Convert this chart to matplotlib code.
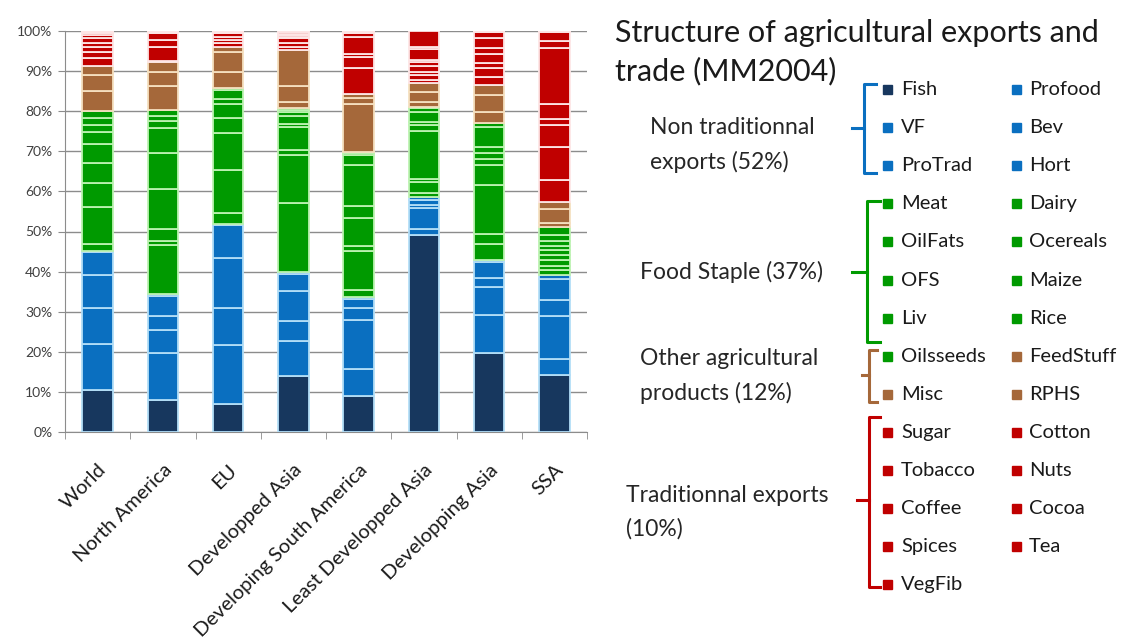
import numpy as np
import matplotlib
matplotlib.use("Agg")
import matplotlib.pyplot as plt
from matplotlib.lines import Line2D
from matplotlib.patches import Rectangle

plt.rcParams["font.family"] = ["Lato", "DejaVu Sans"]

regions = ["World", "North America", "EU", "Developped Asia",
           "Developing South America", "Least Developped Asia",
           "Developping Asia", "SSA"]

categories = ["Fish", "Profood", "VF", "Bev", "ProTrad", "Hort",
              "Meat", "Dairy", "OilFats", "Ocereals", "OFS", "Maize", "Liv", "Rice",
              "Oilsseeds", "FeedStuff", "Misc", "RPHS",
              "Sugar", "Cotton", "Tobacco", "Nuts", "Coffee", "Cocoa", "Spices", "Tea",
              "VegFib"]

# colour group of each category (0 fish, 1 blue, 2 green, 3 brown, 4 red)
groups = [0, 1, 1, 1, 1, 1,
          2, 2, 2, 2, 2, 2, 2, 2,
          2, 3, 3, 3,
          4, 4, 4, 4, 4, 4, 4, 4,
          4]

# shares in % per region, same order as categories
world = [10.4, 11.6, 9.0, 8.1, 5.8, 0.3,
         1.6, 9.4, 5.8, 5.1, 4.6, 3.2, 1.6, 1.9,
         1.6, 5.0, 4.0, 2.3,
         1.9, 1.5, 1.3, 1.1, 1.1, 0.8, 0.5, 0.3, 0.2]
north_america = [7.9, 11.7, 5.8, 3.6, 4.9, 0.6,
                 12.1, 1.0, 3.0, 10.1, 8.8, 6.2, 1.8, 1.4,
                 1.4, 6.0, 3.6, 2.3,
                 0.4, 3.5, 1.7, 1.6, 0.2, 0.1, 0.1, 0.1, 0.1]
eu = [7.1, 14.5, 9.4, 12.3, 8.4, 0.2,
      2.6, 10.8, 9.2, 3.7, 3.6, 1.2, 2.3, 0.4,
      0.2, 4.0, 4.8, 1.4,
      0.8, 0.9, 0.8, 0.8, 0.2, 0.1, 0.1, 0.1, 0.1]
developped_asia = [14.0, 8.6, 5.0, 7.5, 4.4, 0.4,
                   17.1, 12.1, 1.2, 5.8, 0.6, 2.2, 0.8, 0.6,
                   0.4, 1.7, 3.9, 9.0,
                   0.8, 0.8, 1.3, 0.4, 0.3, 0.2, 0.2, 0.5, 0.2]
developing_sam = [9.0, 6.8, 12.1, 2.9, 2.3, 0.6,
                  1.7, 9.8, 1.1, 7.1, 2.9, 10.3, 2.5, 0.5,
                  0.3, 12.0, 1.3, 1.0,
                  6.5, 2.9, 0.6, 4.4, 0.8, 0.2, 0.2, 0.1, 0.1]
least_dev_asia = [49.1, 1.5, 5.3, 0.8, 1.1, 0.9,
                  0.8, 2.9, 0.7, 11.9, 1.5, 0.9, 2.5, 0.8,
                  0.4, 1.3, 2.5, 2.1,
                  0.8, 1.2, 0.9, 1.4, 1.0, 0.5, 2.7, 0.6, 3.9]
developping_asia = [19.8, 9.3, 7.1, 2.3, 3.8, 0.5,
                    4.2, 2.5, 12.2, 4.9, 1.4, 1.5, 1.6, 5.0,
                    0.9, 2.7, 4.3, 2.5,
                    2.1, 2.2, 1.1, 2.3, 1.5, 2.6, 1.5, 0.1, 0.1]
ssa = [14.1, 4.2, 10.6, 4.0, 5.2, 1.0,
       1.2, 1.1, 1.4, 1.3, 1.2, 1.1, 1.2, 1.5,
       2.1, 0.8, 3.7, 1.7,
       5.5, 8.2, 5.4, 1.5, 3.7, 14.0, 1.8, 2.3, 0.2]

shares = np.array([world, north_america, eu, developped_asia, developing_sam,
                   least_dev_asia, developping_asia, ssa])

group_colors = ["#17375E", "#0A6FC0", "#009A00", "#A5683A", "#C00000"]
group_edges = ["#B3DEF7", "#B3DEF7", "#BDF2B2", "#F5E0C0", "#FDE6E6"]

title_lines = ["Structure of agricultural exports and", "trade (MM2004)"]
group_labels = ["Non traditionnal\nexports (52%)", "Food Staple (37%)",
                "Other agricultural\nproducts (12%)", "Traditionnal exports\n(10%)"]

W, H = 1125, 642
fig = plt.figure(figsize=(W / 100, H / 100), dpi=100)


def fx(px):
    return px / W


def fy(py):
    return 1 - py / H


ax = fig.add_axes([fx(65), fy(432), fx(587) - fx(65), fy(31) - fy(432)])

x = np.arange(len(regions))
bottom = np.zeros(len(regions))
for j, cat in enumerate(categories):
    g = groups[j]
    ax.bar(x, shares[:, j], width=0.47, bottom=bottom,
           color=group_colors[g], edgecolor=group_edges[g], linewidth=1.3, zorder=3)
    bottom += shares[:, j]

ax.set_xlim(-0.5, len(regions) - 0.5)
ax.set_ylim(0, 100)
ax.set_yticks(np.arange(0, 101, 10))
ax.set_yticklabels([f"{v}%" for v in range(0, 101, 10)], fontsize=10, color="#404040")
ax.yaxis.grid(True, color="#8C8C8C", linewidth=1.0, zorder=0)
ax.tick_params(axis="y", length=5, color="#8C8C8C", pad=4)

ax.set_xticks(x)
ax.set_xticklabels(regions, rotation=45, ha="right", rotation_mode="anchor",
                   fontsize=14.5, color="#1A1A1A")
ax.set_xticks(np.arange(-0.5, len(regions)), minor=True)
ax.tick_params(axis="x", which="major", length=0, pad=21)
ax.tick_params(axis="x", which="minor", length=5, color="#8C8C8C")

for side in ["top", "right"]:
    ax.spines[side].set_visible(False)
for side in ["left", "bottom"]:
    ax.spines[side].set_color("#8C8C8C")

# title on the right
for line, base in zip(title_lines, [42, 80]):
    fig.text(fx(615), fy(base), line, fontsize=22, va="baseline", ha="left",
             color="#1A1A1A")

# legend, two columns filled row by row
col_marker = [887, 1016]
col_text = [901, 1029]
row_y0, row_step = 89.5, 38.1
for j, cat in enumerate(categories):
    row, col = divmod(j, 2)
    yy = row_y0 + row * row_step
    fig.patches.append(Rectangle((fx(col_marker[col] - 4.5), fy(yy + 4.5)), fx(9), fy(0) - fy(9),
                                 transform=fig.transFigure, color=group_colors[groups[j]]))
    fig.text(fx(col_text[col]), fy(yy), cat, fontsize=14.5, va="center", ha="left",
             color="#1A1A1A")

# group labels
label_pos = [(650, 145), (640, 272), (640, 376), (626, 512)]
for (lx, ly), lab in zip(label_pos, group_labels):
    fig.text(fx(lx), fy(ly), lab, fontsize=16.5, va="center", ha="left",
             linespacing=1.7, color="#262626")

# brackets: (vertical x, top y, bottom y, right end x, tip y, tip x)
brackets = [(864, 84, 173, 876, 128, 852, group_colors[1]),
            (867, 201, 342, 880, 272, 852, group_colors[2]),
            (869, 350, 402, 877, 375, 862, group_colors[3]),
            (869, 417, 587, 880, 500, 857, group_colors[4])]
for xv, yt, yb, xr, ym, xt, c in brackets:
    fig.add_artist(Line2D([fx(xr), fx(xv), fx(xv), fx(xr)], [fy(yt), fy(yt), fy(yb), fy(yb)],
                          color=c, linewidth=2.2, solid_joinstyle="round"))
    fig.add_artist(Line2D([fx(xt), fx(xv)], [fy(ym), fy(ym)], color=c, linewidth=2.2))

fig.savefig("out.png", dpi=100)
